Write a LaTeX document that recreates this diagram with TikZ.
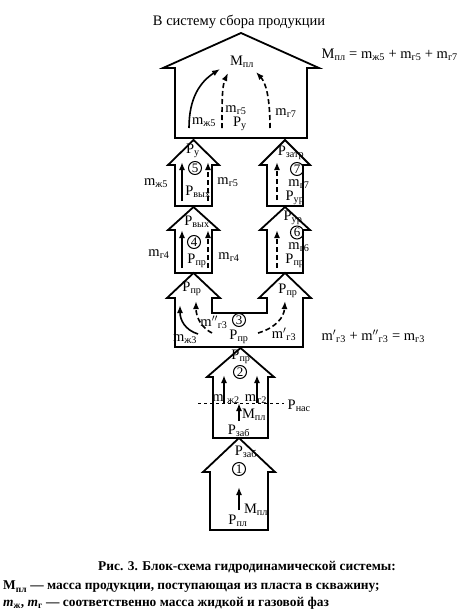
\documentclass[tikz,border=0pt]{standalone}
\usepackage{fontspec}
\setmainfont{Liberation Serif}
\usetikzlibrary{arrows.meta,positioning,calc}

% house-like block: centre x, apex y, half width, overhang, eave y, bottom y
\newcommand\blockhouse[6]{%
  \draw[blk] (#1-#3-#4,#5) -- (#1,#2) -- (#1+#3+#4,#5) -- (#1+#3,#5)
    -- (#1+#3,#6) -- (#1-#3,#6) -- (#1-#3,#5) -- cycle;}
\newcommand\lo[1]{\textsubscript{#1}}

\begin{document}
\begin{tikzpicture}[x=1pt,y=-1pt,>=Latex]
  \tikzstyle{blk}=[line width=1.8pt,line join=miter]
  \tikzstyle{lbl}=[inner sep=0.5pt,font=\fontsize{14.5}{15}\selectfont]
  \tikzstyle{num}=[circle,draw,line width=1pt,inner sep=0pt,minimum size=13pt,font=\fontsize{13}{13}\selectfont]
  \tikzstyle{flow}=[line width=1.6pt,->,>={Latex[length=8pt,width=6pt]}]
  \tikzstyle{gas}=[flow,dash pattern=on 5pt off 3pt]
  \tikzstyle{capt}=[inner sep=0pt,font=\fontsize{13.4}{15}\selectfont\bfseries]
  \useasboundingbox (0,0) rectangle (471,610);

  % blocks
  \blockhouse{241}{33}{66}{12}{68}{138}
  \blockhouse{193.5}{140}{18.5}{7}{165}{206}
  \blockhouse{193.5}{207}{18.5}{7}{230}{273}
  \blockhouse{285}{140}{18}{7}{165}{206}
  \blockhouse{285}{207}{18}{7}{230}{273}
  \draw[blk] (167,298) -- (193.5,273) -- (220,298) -- (212,298) -- (212,313)
    -- (267,313) -- (267,298) -- (259,298) -- (285,273) -- (311,298)
    -- (303,298) -- (303,347) -- (175,347) -- (175,298) -- cycle;
  \blockhouse{240.5}{348}{27.5}{6}{377}{438}
  \blockhouse{239}{438}{29}{7}{472}{530}

  % texts outside
  \node[lbl] (out) at (239,22) {В систему сбора продукции};
  \node[lbl,anchor=west] (sum8) at (321,55) {M\lo{пл} = m\lo{ж5} + m\lo{г5} + m\lo{г7}};
  \node[lbl,anchor=west] (sum3) at (321,336) {m$'$\lo{г3} + m$''$\lo{г3} = m\lo{г3}};

  % block 8
  \node[lbl] (m8) at (242,62) {M\lo{пл}};
  \node[lbl] (mzh5t) at (204,122) {m\lo{ж5}};
  \node[lbl] (mg5t) at (236,110) {m\lo{г5}};
  \node[lbl] (py8) at (240,124) {P\lo{у}};
  \node[lbl] (mg7t) at (286,113) {m\lo{г7}};
  \coordinate (s8a) at (189,128); \coordinate (s8b) at (220,69);
  \coordinate (d8a) at (222,128); \coordinate (d8b) at (228,73);
  \coordinate (e8a) at (270,128); \coordinate (e8b) at (256,72);
  \draw[flow] (s8a) .. controls (189,98) and (200,82) .. (s8b);
  \draw[gas] (d8a) .. controls (222,102) and (222,86) .. (d8b);
  \draw[gas] (e8a) .. controls (270,98) and (266,83) .. (e8b);

  % block 5
  \node[lbl] (py5) at (193,151) {P\lo{у}};
  \node[num] (n5) at (195,168) {5};
  \node[lbl] (pv5) at (198,192) {P\lo{вых}};
  \node[lbl] (mzh5) at (156,183) {m\lo{ж5}};
  \node[lbl] (mg5) at (228,182) {m\lo{г5}};
  \coordinate (s5a) at (182,201); \coordinate (s5b) at (182,162);
  \coordinate (d5a) at (208,201); \coordinate (d5b) at (208,162);
  \draw[flow] (s5a) -- (s5b);
  \draw[gas] (d5a) -- (d5b);

  % block 4
  \node[lbl] (pv4) at (197,222) {P\lo{вых}};
  \node[num] (n4) at (194,242) {4};
  \node[lbl] (ppr4) at (197,261) {P\lo{пр}};
  \node[lbl] (mg4a) at (159,254) {m\lo{г4}};
  \node[lbl] (mg4b) at (229,257) {m\lo{г4}};
  \coordinate (s4a) at (182,268); \coordinate (s4b) at (182,230);
  \coordinate (d4a) at (208,268); \coordinate (d4b) at (208,230);
  \draw[flow] (s4a) -- (s4b);
  \draw[gas] (d4a) -- (d4b);

  % block 7
  \node[lbl] (pz7) at (291,153) {P\lo{затр}};
  \node[num] (n7) at (297,169) {7};
  \node[lbl] (mg7) at (299,184) {m\lo{г7}};
  \node[lbl] (pur7) at (295,197.5) {P\lo{ур}};
  \coordinate (d7a) at (277,200); \coordinate (d7b) at (277,162);
  \draw[gas] (d7a) -- (d7b);

  % block 6
  \node[lbl] (pur6) at (293,218) {P\lo{ур}};
  \node[num] (n6) at (297,232.5) {6};
  \node[lbl] (mg6) at (299,247.5) {m\lo{г6}};
  \node[lbl] (ppr6) at (295,261) {P\lo{пр}};
  \coordinate (d6a) at (277,268); \coordinate (d6b) at (277,230);
  \draw[gas] (d6a) -- (d6b);

  % block 3
  \node[lbl] (ppr3a) at (192,289) {P\lo{пр}};
  \node[lbl] (ppr3b) at (288,291) {P\lo{пр}};
  \node[lbl] (mzh3) at (185,339) {m\lo{ж3}};
  \node[lbl] (mg3b) at (214,322) {m$''$\lo{г3}};
  \node[num] (n3) at (239,320) {3};
  \node[lbl] (ppr3) at (239,337) {P\lo{пр}};
  \node[lbl] (mg3a) at (284,334) {m$'$\lo{г3}};
  \coordinate (s3a) at (198,334); \coordinate (s3b) at (180,305);
  \coordinate (d3a) at (212,333); \coordinate (d3b) at (196,301);
  \coordinate (e3a) at (258,333); \coordinate (e3b) at (285,301);
  \draw[flow] (s3a) .. controls (185,330) and (180,320) .. (s3b);
  \draw[gas] (d3a) .. controls (202,328) and (196,318) .. (d3b);
  \draw[gas] (e3a) .. controls (275,328) and (284,318) .. (e3b);

  % block 2
  \node[lbl] (ppr2) at (241,357) {P\lo{пр}};
  \node[num] (n2) at (240,372) {2};
  \node[lbl] (mzh2) at (226,399) {m\hspace{3.5pt}\lo{ж2}};
  \node[lbl] (mg2) at (256,399) {m\hspace{1pt}\lo{г2}};
  \node[lbl] (m2) at (254,415) {M\lo{пл}};
  \node[lbl] (pz2) at (239,431) {P\lo{заб}};
  \coordinate (nasa) at (198,403); \coordinate (nasb) at (284,403);
  \draw[dashed,thin] (nasa) -- (nasb);
  \node[lbl,anchor=west] (pnas) at (287,406) {P\lo{нас}};
  \coordinate (s2a) at (224,403); \coordinate (s2b) at (224,375);
  \coordinate (t2a) at (257,403); \coordinate (t2b) at (257,375);
  \coordinate (u2a) at (239,421); \coordinate (u2b) at (239,403);
  \draw[flow] (s2a) -- (s2b);
  \draw[flow] (t2a) -- (t2b);
  \draw[flow] (u2a) -- (u2b);

  % block 1
  \node[lbl] (pz1) at (246,452) {P\lo{заб}};
  \node[num] (n1) at (239,469) {1};
  \node[lbl] (m1) at (256,510) {M\lo{пл}};
  \node[lbl] (ppl1) at (238,521) {P\lo{пл}};
  \coordinate (s1a) at (239,510); \coordinate (s1b) at (239,487);
  \draw[flow] (s1a) -- (s1b);

  % caption
  \node[capt] (cap1) at (247,567) {Рис. 3. Блок-схема гидродинамической системы:};
  \node[capt,anchor=west] (cap2) at (3,587) {M\lo{пл} — масса продукции, поступающая из пласта в скважину;};
  \node[capt,anchor=west] (cap3) at (3,603) {\textit{m}\lo{ж}, \textit{m}\lo{г} — соответственно масса жидкой и газовой фаз};
\end{tikzpicture}
\end{document}
